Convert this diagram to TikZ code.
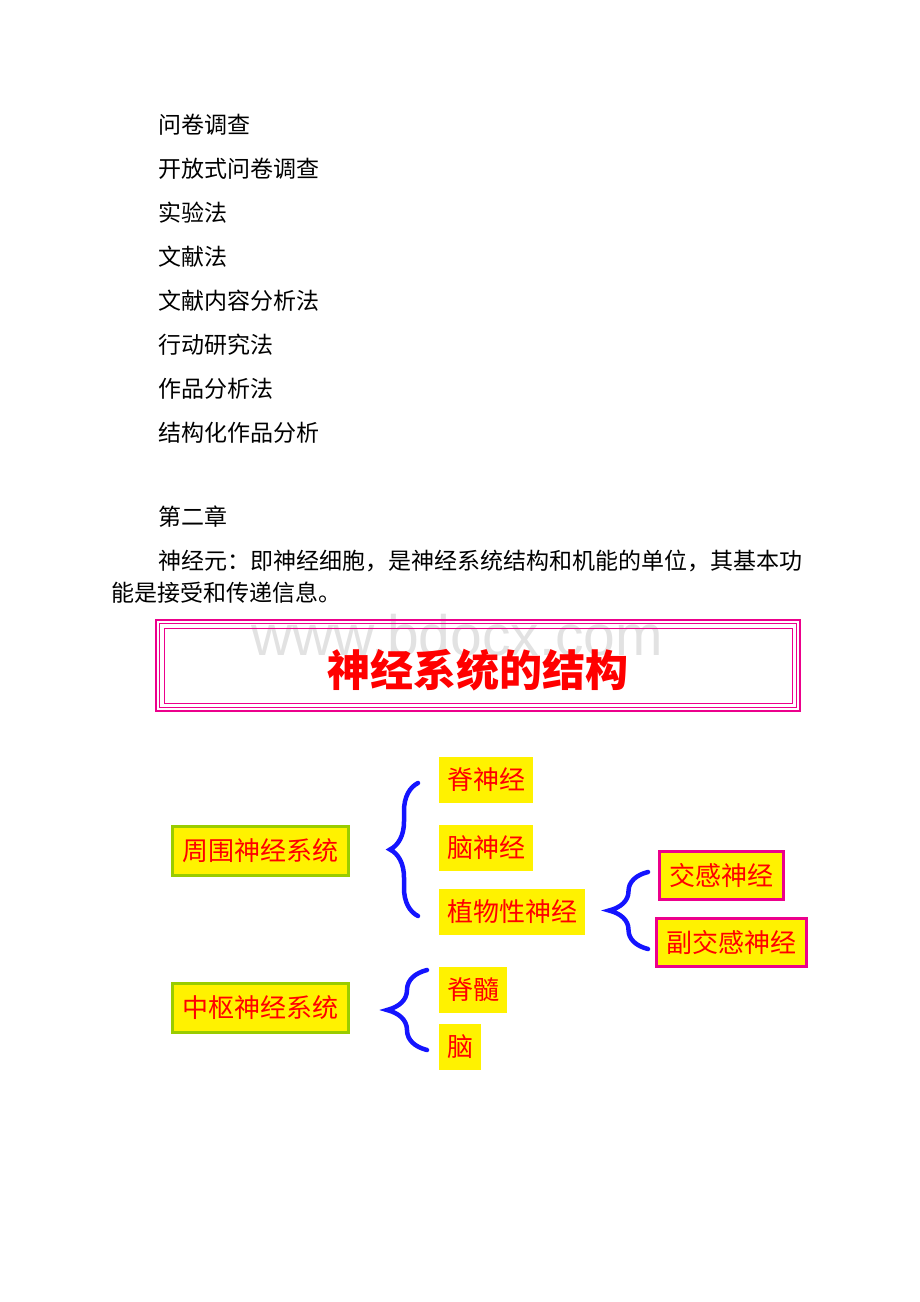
\documentclass[tikz,border=0pt]{standalone}
\usepackage{fontspec}
\setmainfont{Noto Sans CJK SC}
\newfontfamily\markfont{Liberation Sans}
\usetikzlibrary{decorations.pathreplacing}
\definecolor{sysgreen}{RGB}{153,204,0}
\definecolor{bracelue}{RGB}{20,20,255}
\definecolor{markgray}{RGB}{226,226,226}

\begin{document}
\begin{tikzpicture}[x=1pt,y=-1pt,
    plain/.style={anchor=west,inner sep=0pt,font=\fontsize{23}{28}\selectfont},
    sysbox/.style={draw=sysgreen,line width=3pt,fill=yellow,text=red,
        font=\fontsize{26}{30}\selectfont,minimum width=176,minimum height=49,inner sep=0pt},
    leaf/.style={anchor=west,fill=yellow,text=red,font=\fontsize{26}{30}\selectfont,
        inner xsep=8pt,inner ysep=0pt,minimum height=46},
    subbox/.style={anchor=west,draw=magenta,line width=3pt,fill=yellow,text=red,
        font=\fontsize{26}{30}\selectfont,inner xsep=10pt,inner ysep=0pt,minimum height=48},
    bluebrace/.style={draw=bracelue,line width=4.5pt,line cap=round,decorate,
        decoration={brace,amplitude=#1}}]
    \useasboundingbox (0,0) rectangle (920,1302);

    % text above the chart
    \foreach \t [count=\i from 0] in {问卷调查,开放式问卷调查,实验法,文献法,
        文献内容分析法,行动研究法,作品分析法,结构化作品分析}
        \node[plain] (m\i) at (158,{125+44*\i}) {\t};
    \node[plain] (chap) at (158,517) {第二章};
    \node[plain] (para1) at (158,561)
        {神经元：即神经细胞，是神经系统结构和机能的单位，其基本功};
    \node[plain] (para2) at (111,593) {能是接受和传递信息。};

    % watermark and title frame
    \node[anchor=base,inner sep=0pt,text=markgray,font=\markfont\fontsize{57}{60}\selectfont]
        (mark) at (457,655) {www.bdocx.com};
    \draw[magenta,line width=2] (156,620) rectangle (800,711);
    \draw[magenta,line width=1.5] (159.5,623.5) rectangle (796.5,707.5);
    \draw[magenta,line width=1] (164,628) rectangle (792,703);
    \node[text=red,font=\bfseries\fontsize{43}{48}\selectfont] (title) at (478,670) {神经系统的结构};

    % peripheral part
    \node[sysbox] (peri) at (260.5,851) {周围神经系统};
    \node[leaf] (spinal) at (439,780) {脊神经};
    \node[leaf] (cranial) at (439,848) {脑神经};
    \node[leaf] (auto) at (439,912) {植物性神经};
    \node[subbox] (symp) at (657.5,875.5) {交感神经};
    \node[subbox] (para) at (654.5,942.5) {副交感神经};

    % central part
    \node[sysbox] (cent) at (260.5,1007.5) {中枢神经系统};
    \node[leaf] (cord) at (439,989.5) {脊髓};
    \node[leaf] (brain) at (439,1047) {脑};

    % braces
    \coordinate (b1top) at (418,783);
    \coordinate (b1bot) at (418,916);
    \coordinate (b2top) at (648,872);
    \coordinate (b2bot) at (648,949);
    \coordinate (b3top) at (427,970);
    \coordinate (b3bot) at (427,1050);
    \draw[bluebrace=28pt] (b1bot) -- (b1top);
    \draw[bluebrace=39pt] (b2bot) -- (b2top);
    \draw[bluebrace=40pt] (b3bot) -- (b3top);
\end{tikzpicture}
\end{document}
